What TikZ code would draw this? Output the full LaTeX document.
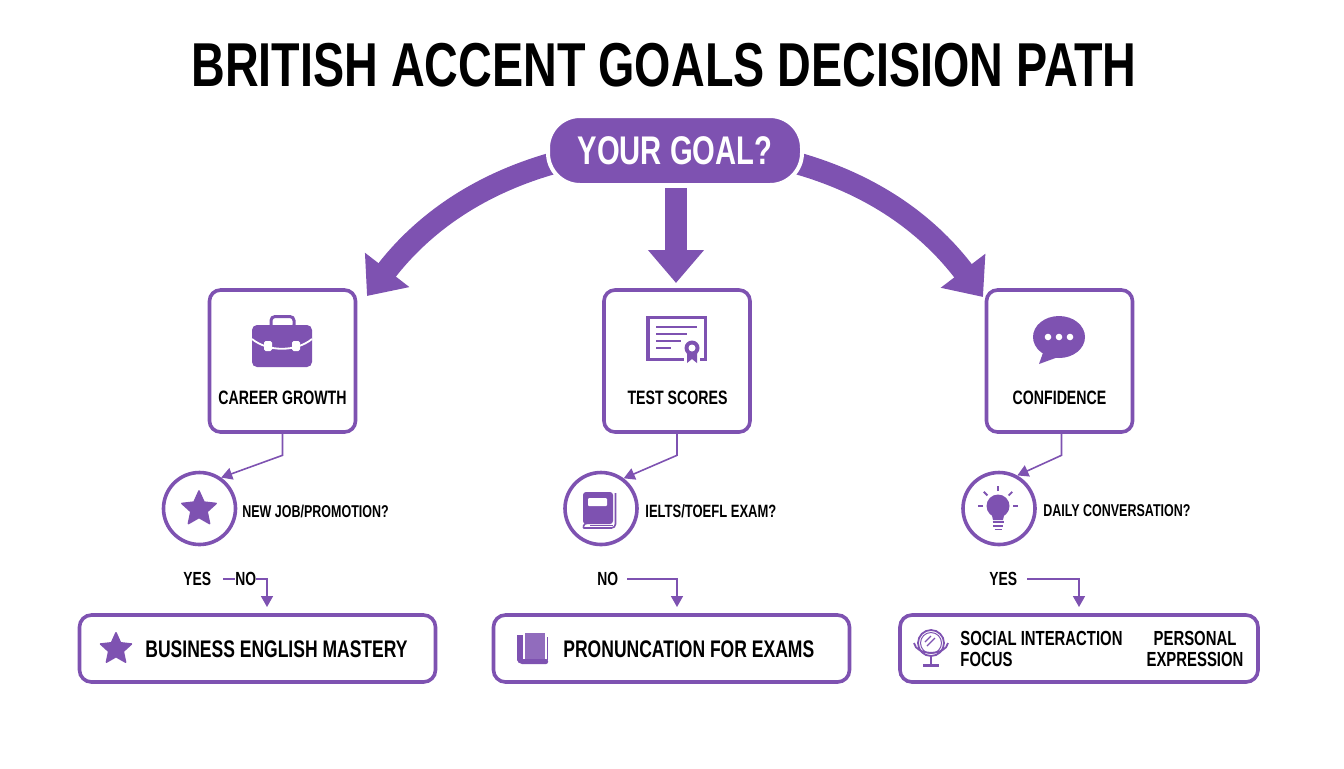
\documentclass[tikz,border=0pt]{standalone}
\usepackage{fontspec}
\newfontfamily\narrowfont[FakeStretch=0.73]{Liberation Sans}
\newfontfamily\titlefont[FakeStretch=0.753]{Liberation Sans}
\usetikzlibrary{arrows.meta,backgrounds,calc}
\definecolor{goalpurple}{HTML}{7E52B1}
\tikzset{
  goalbox/.style={draw=goalpurple,line width=1.8pt,fill=white,rounded corners=5.5pt,minimum width=73pt,minimum height=71pt,inner sep=0pt},
  askcircle/.style={circle,draw=goalpurple,line width=1.8pt,fill=white,minimum size=36pt,inner sep=0pt},
  outbox/.style={draw=goalpurple,line width=1.8pt,fill=white,rounded corners=6pt,minimum width=178pt,minimum height=33.5pt,inner sep=0pt},
  bigarrow/.style={goalpurple,line width=11pt,-{Triangle[length=16.5pt,width=27pt]}},
  thinarrow/.style={goalpurple,line width=0.8pt,-{Triangle[length=5.5pt,width=6pt]}},
  titletext/.style={font=\titlefont\bfseries\fontsize{31}{31}\selectfont,text=black,inner sep=0pt},
  boxtext/.style={font=\narrowfont\bfseries\fontsize{9.7}{9.7}\selectfont,text=black,inner sep=0pt},
  asktext/.style={font=\narrowfont\bfseries\fontsize{8.55}{8.55}\selectfont,text=black,inner sep=0pt,anchor=west},
  choicetext/.style={font=\narrowfont\bfseries\fontsize{9.5}{9.5}\selectfont,text=black,inner sep=0pt,anchor=west},
  outtext/.style={font=\narrowfont\bfseries\fontsize{12}{12}\selectfont,text=black,inner sep=0pt},
  sidetext/.style={font=\narrowfont\bfseries\fontsize{10.2}{10.6}\selectfont,text=black,inner sep=0pt},
  pics/handler/.style={staricon},
  staricon/.pic={
    \fill[goalpurple,draw=goalpurple,line width=0.8pt,line join=round]
      (-90:18) -- (-54:8.5) -- (-18:18) -- (18:8.5) -- (54:18) -- (90:8.5) -- (126:18) -- (162:8.5) -- (198:18) -- (234:8.5) -- cycle;
  },
  briefcase/.pic={
    \draw[goalpurple,line width=1.5pt,rounded corners=2pt] (-11,-24.5) rectangle (12,-12);
    \fill[goalpurple,rounded corners=2.5pt] (-30,-16) rectangle (30,26);
    \draw[white,line width=0.9pt] (-30,-2) .. controls (-14,11) and (14,11) .. (30,-2);
    \fill[white,rounded corners=0.8pt] (-18,0) rectangle (-10,10);
    \fill[white,rounded corners=0.8pt] (10,0) rectangle (18,10);
  },
  certificate/.pic={
    \draw[goalpurple,line width=1.8pt] (-29,-21.5) rectangle (28.5,20.5);
    \foreach \yy/\xx in {-12/20,-5/10,2/4,9/-6} {
      \draw[goalpurple,line width=1.2pt] (-21,\yy) -- (\xx,\yy);
    }
    \fill[white] (7,1) rectangle (23,25);
    \fill[goalpurple] (10,12) -- (10,24) -- (15,20) -- (20,24) -- (20,12) -- cycle;
    \fill[goalpurple] (15,9) circle (7.5);
    \fill[white] (15,9) circle (3.5);
  },
  bubble/.pic={
    \fill[goalpurple] (-15,13) -- (-20,27) -- (2,19) -- cycle;
    \fill[goalpurple] (0,0) ellipse (26 and 21);
    \foreach \xx in {-11,0,11} {
      \fill[white] (\xx,0) circle (3.3);
    }
  },
  bookicon/.pic={
    \fill[goalpurple,rounded corners=1.5pt] (-17,-18) rectangle (13,14);
    \fill[white,rounded corners=0.5pt] (-12,-12) rectangle (7,-4);
    \draw[goalpurple,line width=0.8pt,rounded corners=2pt] (15.5,-17) -- (15.5,18) -- (-12,18) .. controls (-17,18) and (-17,13) .. (-12,13);
    \draw[goalpurple,line width=0.6pt] (-10,15.5) -- (13,15.5);
  },
  bulb/.pic={
    \fill[goalpurple] (0,-1) circle (11.5);
    \fill[goalpurple] (-7,4) -- (7,4) -- (5,13) -- (-5,13) -- cycle;
    \foreach \yy/\xx in {15/5.5,19/5,22.5/3.5} {
      \draw[goalpurple,line width=0.8pt] (-\xx,\yy) -- (\xx,\yy);
    }
    \foreach \ang in {-180,-135,-90,-45,0} {
      \draw[goalpurple,line width=0.9pt,shift={(0,-1)}] (\ang:15) -- (\ang:20);
    }
  },
  mirror/.pic={
    \draw[goalpurple,line width=0.9pt] (0,0) circle (13);
    \draw[goalpurple,line width=0.5pt] (0,0) circle (10.5);
    \draw[goalpurple,line width=0.6pt] (-6,-1) -- (0,-7);
    \draw[goalpurple,line width=0.6pt] (-4,3) -- (4,-5);
    \draw[goalpurple,line width=0.9pt] (-17,0) .. controls (-15,13) and (15,13) .. (17,0);
    \draw[goalpurple,line width=0.9pt] (0,12) -- (0,22);
    \draw[goalpurple,line width=1.1pt] (-8,22.5) -- (8,22.5);
  },
  flatbook/.pic={
    \fill[goalpurple!85!white] (-8,-15) rectangle (12,11);
    \fill[goalpurple] (-16,-13) rectangle (-10,12);
    \fill[goalpurple,rounded corners=1pt] (-16,11) -- (15,11) -- (15,16) -- (-13,16) -- (-16,13) -- cycle;
    \fill[goalpurple] (13.5,-11) rectangle (15,12);
  }
}

\begin{document}
\begin{tikzpicture}[line cap=butt,line join=miter,x=0.5pt,y=-0.5pt]
    \useasboundingbox (0,0) rectangle (1344,768);

    \node[titletext] (title) at (664,65) {BRITISH ACCENT GOALS DECISION PATH};

    % Goal and the three boxes
    \node[fill=goalpurple,draw=white,line width=2pt,rounded corners=16pt,minimum width=127pt,minimum height=34.5pt,inner sep=0pt,
      font=\narrowfont\bfseries\fontsize{20}{20}\selectfont,text=white] (goal) at (675,150.5) {YOUR GOAL?};
    \node[goalbox] (career) at (282.5,361) {};
    \node[goalbox] (test) at (677,361) {};
    \node[goalbox] (conf) at (1059.5,361) {};

    \coordinate (goalL) at ($(goal.west)+(6,13)$);
    \coordinate (goalR) at ($(goal.east)+(-6,13)$);
    \coordinate (goalM) at (676,188);
    \coordinate (tipL) at (367,296);
    \coordinate (tipM) at (676,283);
    \coordinate (tipR) at (983,297);

    % Big arrows
    \begin{scope}[on background layer]
        \draw[bigarrow] (goalL) .. controls (470,187) and (418,230) .. (tipL);
        \draw[bigarrow] (goalR) .. controls (880,187) and (932,230) .. (tipR);
    \end{scope}
    \draw[bigarrow] (goalM) -- (tipM);

    \pic at (282,341) {briefcase};
    \pic at (677,339) {certificate};
    \pic at (1059,337) {bubble};

    \node[boxtext] (careerT) at (282.5,398) {CAREER GROWTH};
    \node[boxtext] (testT) at (677.5,398) {TEST SCORES};
    \node[boxtext] (confT) at (1059.5,398) {CONFIDENCE};

    % Question circles
    \node[askcircle] (askA) at (199.5,508.5) {};
    \node[askcircle] (askB) at (601,508.5) {};
    \node[askcircle] (askC) at (999,508.5) {};

    \pic at (199,509) {staricon};
    \pic at (600,510) {bookicon};
    \pic at (998,507) {bulb};

    \node[asktext] (askAT) at (242,511) {NEW JOB/PROMOTION?};
    \node[asktext,font=\narrowfont\bfseries\fontsize{8.9}{8.9}\selectfont] (askBT) at (645,511) {IELTS/TOEFL EXAM?};
    \node[asktext] (askCT) at (1043,511) {DAILY CONVERSATION?};

    % Edges
    \foreach \source/\target/\ang/\dx in {career/askA/55/0, test/askB/53/0, conf/askC/61/2} {
            \draw[thinarrow] ([xshift=\dx pt*0.5]\source.south) -- ++(0,21.5) -- (\target.\ang);
        }

    % Outcome boxes
    \node[outbox] (outA) at (257.5,648.5) {};
    \node[outbox] (outB) at (671.5,648.5) {};
    \node[outbox,minimum width=179pt] (outC) at (1079,648.5) {};

    \coordinate (lineA) at (223,579);
    \coordinate (endA) at (267,607);
    \coordinate (lineB) at (627,579);
    \coordinate (endB) at (677,607);
    \coordinate (lineC) at (1027,579);
    \coordinate (endC) at (1079,607);
    \foreach \source/\target in {lineA/endA, lineB/endB, lineC/endC} {
            \draw[thinarrow] (\source) -| (\target);
        }

    \node[choicetext] (yesA) at (183,579) {YES};
    \node[choicetext,fill=white] (noA) at (235,579) {NO};
    \node[choicetext] (noB) at (597,579) {NO};
    \node[choicetext] (yesC) at (989,579) {YES};

    \pic[scale=0.9] at (116,649) {staricon};
    \pic at (533,648) {flatbook};
    \pic at (931,643) {mirror};

    \node[outtext,anchor=west] (outAT) at (145,649) {BUSINESS ENGLISH MASTERY};
    \node[outtext,anchor=west] (outBT) at (563,649) {PRONUNCATION FOR EXAMS};
    \node[sidetext,anchor=west,align=left] (outCT) at (960,649) {SOCIAL INTERACTION\\FOCUS};
    \node[sidetext,align=center] (outCS) at (1195,649) {PERSONAL\\EXPRESSION};
\end{tikzpicture}
\end{document}
